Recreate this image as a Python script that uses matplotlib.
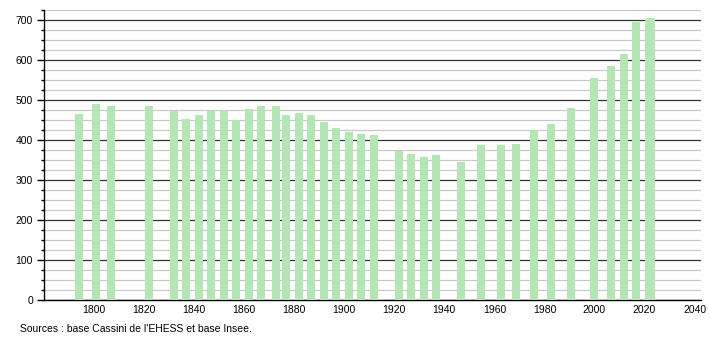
import matplotlib
matplotlib.use("Agg")
import matplotlib.pyplot as plt
from matplotlib.ticker import MultipleLocator

# recensements
years = [1793, 1800, 1806, 1821, 1831, 1836, 1841, 1846, 1851, 1856,
         1861, 1866, 1872, 1876, 1881, 1886, 1891, 1896, 1901, 1906,
         1911, 1921, 1926, 1931, 1936, 1946, 1954, 1962, 1968, 1975,
         1982, 1990, 1999, 2006, 2011, 2016, 2021, 2022]
population = [465, 490, 485, 485, 473, 452, 462, 473, 474, 450,
              477, 485, 485, 462, 467, 462, 445, 430, 420, 415,
              412, 373, 365, 357, 362, 345, 387, 387, 390, 425,
              440, 480, 555, 585, 615, 694, 702, 704]
xticks = [1800, 1820, 1840, 1860, 1880, 1900, 1920, 1940, 1960, 1980, 2000, 2020, 2040]
source = "Sources : base Cassini de l'EHESS et base Insee."

plt.rcParams['font.family'] = ['Liberation Sans', 'DejaVu Sans']

fig = plt.figure(figsize=(7.1, 3.4), dpi=100)
ax = fig.add_axes([0.062, 0.1176, 0.925, 0.853])

bar_color = '#b4e5b4'
offset = 0.8  # bars sit slightly right of the year in the original
ax.bar([y + offset for y in years], population, width=3.2, color=bar_color,
       zorder=3, linewidth=0)

ax.set_xlim(1780, 2042.5)
ax.set_ylim(0, 725)

ax.yaxis.set_major_locator(MultipleLocator(100))
ax.yaxis.set_minor_locator(MultipleLocator(25))
ax.set_xticks(xticks)
ax.set_xticklabels([str(t) for t in xticks])

ax.grid(which='major', axis='y', color='#333333', linewidth=0.9, zorder=1)
ax.grid(which='minor', axis='y', color='#c8c8c8', linewidth=0.9, zorder=0)
ax.set_axisbelow(True)

for s in ['top', 'right']:
    ax.spines[s].set_visible(False)
ax.spines['left'].set_color('black')
ax.spines['bottom'].set_color('black')
ax.spines['left'].set_linewidth(1.0)
ax.spines['bottom'].set_linewidth(1.0)

ax.tick_params(axis='y', which='major', length=5, width=1, labelsize=7.5, pad=3, colors='black')
ax.tick_params(axis='y', which='minor', length=2.5, width=1, colors='black')
ax.tick_params(axis='x', which='major', length=0, labelsize=7.5, pad=3.5, colors='black')

fig.text(20 / 710, 1 - 329 / 340, source, fontsize=7.5, va='center', ha='left', color='black')

fig.savefig('out.png', dpi=100)
